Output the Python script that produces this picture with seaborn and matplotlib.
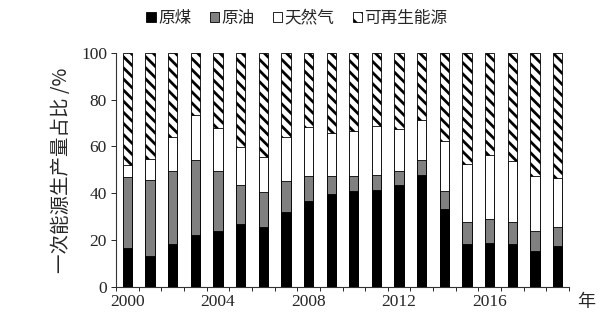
import matplotlib
matplotlib.use('Agg')
import numpy as np
import pandas as pd
import seaborn as sns
import matplotlib.pyplot as plt
from matplotlib.patches import Patch

years = [str(y) for y in range(2000, 2020)]
coal = [16.6, 13.4, 18.3, 22.3, 23.9, 27.0, 25.6, 32.2, 36.6, 39.5,
        40.9, 41.2, 43.5, 48.0, 33.4, 18.2, 18.8, 18.2, 15.3, 17.6]
oil = [30.4, 32.3, 31.3, 32.1, 25.7, 16.6, 15.0, 13.0, 10.8, 7.9,
       6.5, 6.8, 6.2, 6.3, 7.7, 9.5, 10.3, 9.6, 8.8, 8.1]
gas = [5.0, 9.0, 14.6, 18.8, 18.2, 16.3, 14.8, 18.7, 20.8, 18.4,
       19.1, 20.8, 17.6, 17.0, 21.4, 24.7, 27.2, 26.0, 23.2, 20.9]
renew = [48.0, 45.3, 35.8, 26.8, 32.2, 40.1, 44.6, 36.1, 31.8, 34.2,
         33.5, 31.2, 32.7, 28.7, 37.5, 47.6, 43.7, 46.2, 52.7, 53.4]
series_names = ['原煤', '原油', '天然气', '可再生能源']
tick_years = ['2000', '2004', '2008', '2012', '2016']
y_ticks = [0, 20, 40, 60, 80, 100]

sns.set_style('ticks')
plt.rcParams['font.family'] = ['Liberation Serif', 'Noto Sans CJK SC', 'DejaVu Sans']
plt.rcParams['hatch.linewidth'] = 2.0
plt.rcParams['hatch.color'] = 'black'

df = pd.DataFrame({'year': years, 'coal': coal, 'oil': oil, 'gas': gas, 'renew': renew})
df['c1'] = df['coal']
df['c2'] = df['c1'] + df['oil']
df['c3'] = df['c2'] + df['gas']
df['c4'] = df['c3'] + df['renew']

fig = plt.figure(figsize=(6.13, 3.26), dpi=100)
ax = fig.add_axes([116/613, 1 - 287/326, (569 - 116)/613, (287 - 52.7)/326])

w = 0.41
common = dict(x='year', order=years, width=w, edgecolor='black', linewidth=0.6,
              saturation=1, ax=ax, errorbar=None)
sns.barplot(data=df, y='c4', color='white', hatch='\\\\\\', **common)
sns.barplot(data=df, y='c3', color='white', **common)
sns.barplot(data=df, y='c2', color='#808080', **common)
sns.barplot(data=df, y='c1', color='black', **common)

ax.set_xlim(-0.5, 19.5)
ax.set_ylim(0, 100)
ax.set_yticks(y_ticks)
ax.set_yticklabels([str(v) for v in y_ticks], fontsize=12.5)
ax.set_xticks([years.index(t) for t in tick_years])
ax.set_xticklabels(tick_years, fontsize=12.5)
ax.set_xticks(np.arange(-0.5, 20, 1), minor=True)
ax.tick_params(axis='x', which='major', length=0, pad=5)
ax.tick_params(axis='x', which='minor', length=3, width=0.7, direction='out')
ax.tick_params(axis='y', which='major', length=3.5, width=0.7, direction='out', pad=3)
ax.set_xlabel('')
ax.set_ylabel('一次能源生产量占比 /%', fontsize=14, family=['Noto Sans CJK SC', 'DejaVu Sans'])
ax.yaxis.set_label_coords(-0.097, 0.5)
for s in ['top', 'right']:
    ax.spines[s].set_visible(False)
for s in ['left', 'bottom']:
    ax.spines[s].set_linewidth(0.8)
    ax.spines[s].set_color('#333333')

handles = [
    Patch(facecolor='black', edgecolor='black', linewidth=0.6),
    Patch(facecolor='#808080', edgecolor='black', linewidth=0.6),
    Patch(facecolor='white', edgecolor='black', linewidth=0.6),
    Patch(facecolor='white', edgecolor='black', linewidth=0.6, hatch='\\\\'),
]
fig.legend(handles, series_names, loc='center', bbox_to_anchor=(297/613, 1 - 18/326),
           ncol=4, frameon=False, handlelength=0.55, handleheight=0.55,
           handletextpad=0.15, columnspacing=1.1,
           prop={'family': ['Noto Sans CJK SC', 'DejaVu Sans'], 'size': 12})

fig.text(586/613, 1 - 302/326, '年', fontsize=13, ha='center', va='center',
         family=['Noto Sans CJK SC', 'DejaVu Sans'])

fig.savefig('out.png', dpi=100)
